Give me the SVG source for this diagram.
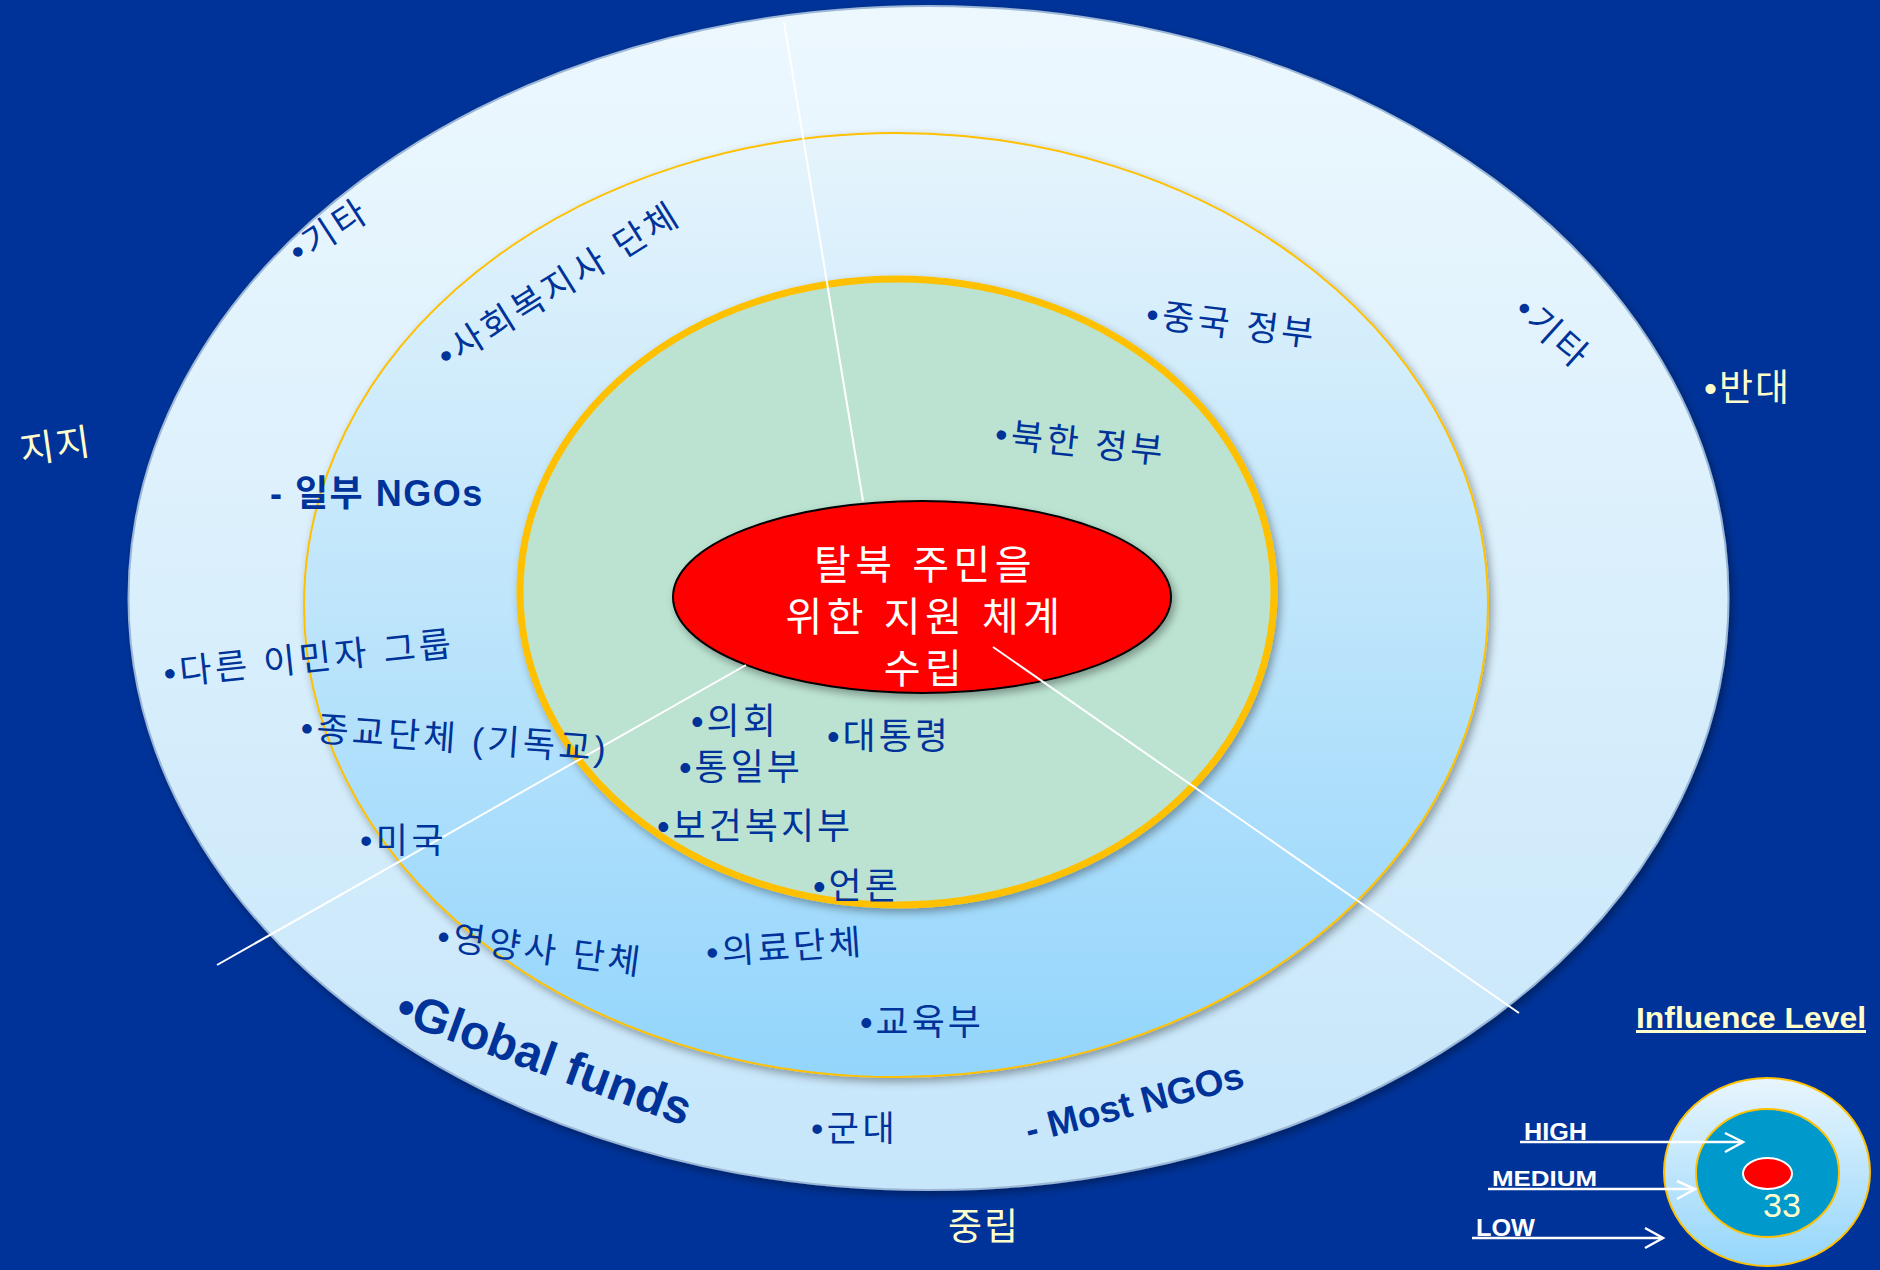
<svg xmlns="http://www.w3.org/2000/svg" width="1880" height="1270" viewBox="0 0 1880 1270">
<defs>
<linearGradient id="gOuter" x1="0" y1="0" x2="0" y2="1">
<stop offset="0" stop-color="#EDF8FE"/>
<stop offset="1" stop-color="#C6E6FA"/>
</linearGradient>
<linearGradient id="gMid" x1="0" y1="0" x2="0" y2="1">
<stop offset="0" stop-color="#E6F4FC"/>
<stop offset="0.5" stop-color="#BEE5FB"/>
<stop offset="1" stop-color="#93D5FC"/>
</linearGradient>
<linearGradient id="gLeg" x1="0" y1="0" x2="0" y2="1">
<stop offset="0" stop-color="#E8F5FD"/>
<stop offset="1" stop-color="#95D6FB"/>
</linearGradient>
<filter id="sh" x="-10%" y="-10%" width="120%" height="120%">
<feDropShadow dx="3" dy="4" stdDeviation="4" flood-color="#000" flood-opacity="0.35"/>
</filter>
</defs>
<style>
text{font-family:"Liberation Sans","Noto Sans CJK KR",sans-serif}
.lb{fill:#003399;font-size:35px;letter-spacing:3.5px}
.in{fill:#003399;font-size:36px;letter-spacing:3px}
.yl{fill:#FFFFCC;font-size:37px;letter-spacing:2px}
.ngo{fill:#003399;font-size:36px;font-weight:bold;letter-spacing:1.5px}
.gf{fill:#003399;font-size:48px;font-weight:bold}
.mn{fill:#003399;font-size:37px;font-weight:bold}
.ct{fill:#FFFFFF;font-size:40px;letter-spacing:4.5px}
.cn{stroke:#FFFFFF;stroke-width:2;fill:none}
.ar{stroke:#FFFFFF;stroke-width:2.5;fill:none}
.lg{fill:#FFFFFF;font-weight:bold}
</style>
<rect x="0" y="0" width="1880" height="1270" fill="#003399"/>

<g id="ring-outer">
<ellipse cx="928.5" cy="598" rx="800" ry="592" fill="url(#gOuter)" stroke="#9DB7D6" stroke-width="2" filter="url(#sh)"/>
</g>
<g id="ring-middle">
<ellipse cx="896" cy="605" rx="592" ry="472" fill="url(#gMid)" stroke="#FFC000" stroke-width="2" filter="url(#sh)"/>
</g>
<g id="ring-inner">
<ellipse cx="897" cy="592" rx="377" ry="313" fill="#BCE3D1" stroke="#FFC000" stroke-width="7" filter="url(#sh)"/>
</g>
<g id="center">
<ellipse cx="922" cy="597" rx="249" ry="96" fill="#FF0000" stroke="#000000" stroke-width="2" filter="url(#sh)"/>
<text class="ct" x="925" y="579" text-anchor="middle">탈북 주민을</text>
<text class="ct" x="925" y="631" text-anchor="middle">위한 지원 체계</text>
<text class="ct" x="925" y="683" text-anchor="middle">수립</text>
</g>

<g id="connectors">
<line class="cn" x1="784" y1="22" x2="863" y2="501"/>
<line class="cn" x1="746" y1="665" x2="217" y2="965"/>
<line class="cn" x1="993" y1="647" x2="1519" y2="1013"/>
</g>

<g id="axis-labels">
<text class="yl" transform="translate(22 464) rotate(-8)">지지</text>
<text class="yl" x="1704" y="401">•반대</text>
<text class="yl" x="948" y="1240">중립</text>
</g>

<g id="labels-outer">
<text class="lb" transform="translate(299 265) rotate(-33)">•기타</text>
<text class="lb" transform="translate(1512 313) rotate(42)">•기타</text>
<text class="lb" transform="translate(165 686) rotate(-6)">•다른 이민자 그룹</text>
<text class="gf" transform="translate(393 1020) rotate(20)">•Global funds</text>
<text class="lb" x="811" y="1141">•군대</text>
<text class="mn" transform="translate(1029 1143) rotate(-14.5)">- Most NGOs</text>
</g>

<g id="labels-middle">
<text class="lb" transform="translate(447 369) rotate(-32)">•사회복지사 단체</text>
<text class="lb" transform="translate(1145 326) rotate(7)">•중국 정부</text>
<text class="ngo" x="270" y="506">- 일부 NGOs</text>
<text class="lb" transform="translate(300 740) rotate(4)">•종교단체 (기독교)</text>
<text class="lb" x="360" y="853">•미국</text>
<text class="lb" transform="translate(436 948) rotate(7.5)">•영양사 단체</text>
<text class="lb" transform="translate(707 965) rotate(-4)">•의료단체</text>
<text class="in" x="860" y="1035">•교육부</text>
</g>

<g id="labels-inner">
<text class="lb" transform="translate(994 446) rotate(6)">•북한 정부</text>
<text class="in" x="691" y="734">•의회</text>
<text class="in" x="827" y="749">•대통령</text>
<text class="in" x="679" y="780">•통일부</text>
<text class="in" x="657" y="839">•보건복지부</text>
<text class="in" x="813" y="899">•언론</text>
</g>

<g id="legend">
<text x="1636" y="1028" fill="#FFFFCC" font-size="30" font-weight="bold" text-decoration="underline" textLength="230" lengthAdjust="spacingAndGlyphs">Influence Level</text>
<ellipse cx="1767" cy="1172" rx="103" ry="94" fill="url(#gLeg)" stroke="#FFC000" stroke-width="2"/>
<ellipse cx="1767.5" cy="1173" rx="71.5" ry="64" fill="#0099CC" stroke="#FFC000" stroke-width="2"/>
<ellipse cx="1767.5" cy="1173.5" rx="24.5" ry="15.5" fill="#FF0000" stroke="#FFFFFF" stroke-width="2"/>
<text x="1763" y="1217" fill="#FFFFCC" font-size="34">33</text>
<text class="lg" x="1524" y="1140" font-size="24" textLength="63" lengthAdjust="spacingAndGlyphs">HIGH</text>
<text class="lg" x="1492" y="1186" font-size="22" textLength="105" lengthAdjust="spacingAndGlyphs">MEDIUM</text>
<text class="lg" x="1476" y="1236" font-size="23" textLength="59" lengthAdjust="spacingAndGlyphs">LOW</text>
<line class="ar" x1="1520" y1="1142" x2="1743" y2="1142"/>
<polyline class="ar" points="1725,1133 1743,1142 1725,1152"/>
<line class="ar" x1="1488" y1="1189" x2="1695" y2="1189"/>
<polyline class="ar" points="1677,1181 1695,1189 1677,1199"/>
<line class="ar" x1="1472" y1="1238" x2="1663" y2="1238"/>
<polyline class="ar" points="1645,1228 1663,1238 1645,1248"/>
</g>
</svg>
